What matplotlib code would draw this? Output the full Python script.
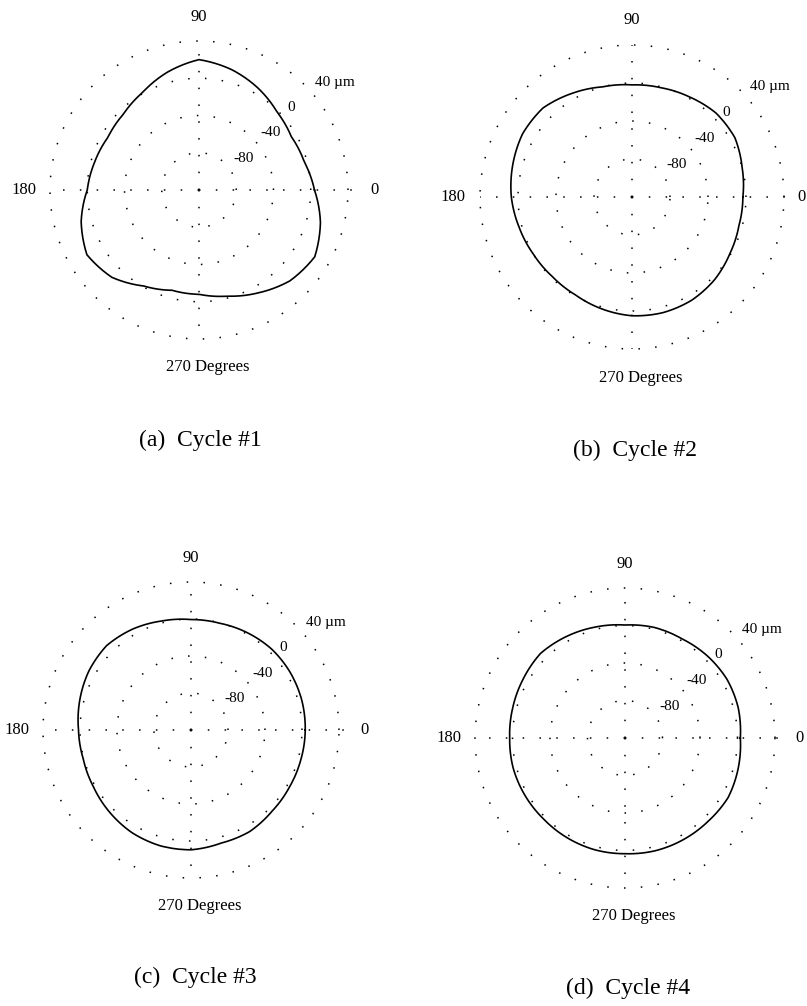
import numpy as np
import matplotlib.pyplot as plt

plt.rcParams['font.family'] = ['Liberation Serif', 'DejaVu Serif']

# angle (deg) at which each profile was read
theta_deg = np.arange(0, 360, 15)

# radial deviation in um at those angles
cycle1 = [4, -3, -5.5, -1.5, 6.5, 14, 20, 11, 1, -5, -7, -4,
          0, 11, 19, 12.5, -1, -8.5, -8, -2, 7.5, 18, 23.5, 15]
cycle2 = [-3.3, 0, 5, 5, 1.5, -1, -2, 0, 6, 12.5, 13, 10,
          7, 3, 0, -1.5, -1, 2, 5, 6, 5.5, 3, -1, -3.5]
cycle3 = [3.5, 4, 4, 3.5, 1.5, -0.5, -0.6, 2, 6, 9, 7.5, 4.5,
          1.6, 0.6, 2, 5, 8, 9.5, 9.5, 6.5, 6.8, 4, 3, 3]
cycle4 = [3, 5, 5.5, 4, 2, 2, 0.5, 2.5, 5, 7.5, 5.5, 4,
          3, 3.5, 3, 2.5, 3, 3.5, 3.4, 4.5, 5, 5.5, 7, 5]

ring_values = [-80, -40, 0, 40]
ring_labels = ['-80', '-40', '0', '40 µm']
captions = ['(a)  Cycle #1', '(b)  Cycle #2', '(c)  Cycle #3', '(d)  Cycle #4']

r_min, r_max = -120, 40

W, H = 807, 1006
fig = plt.figure(figsize=(W / 100, H / 100), dpi=100)

# centre x, centre y, outer radius (px), caption x, caption y, r of the "0" label
panels = [
    (199, 190, 149, 200, 440, 68),
    (632, 197, 152, 635, 450, 58),
    (191, 730, 148, 195, 977, 68),
    (625, 738, 150, 628, 988, 66),
]

dot = (0, (1, 10))
circ = np.linspace(0, 2 * np.pi, 361)

for (cx, cy, R, tx, ty, r0), vals, cap in zip(panels, [cycle1, cycle2, cycle3, cycle4], captions):
    ax = fig.add_axes([(cx - R) / W, 1 - (cy + R) / H, 2 * R / W, 2 * R / H], projection='polar')
    ax.set_ylim(r_min, r_max)
    ax.axis('off')

    # dotted rings and axes
    for rv in ring_values:
        ax.plot(circ, np.full_like(circ, rv), color='k', lw=1.1, ls=dot, clip_on=False)
    for ang, r_end in [(0, 52), (90, 40), (180, 40), (270, 40)]:
        ax.plot([np.radians(ang)] * 2, [r_min, r_end], color='k', lw=1.1, ls=dot, clip_on=False)

    # profile, drawn along arcs between the read angles
    th = np.radians(np.append(theta_deg, 360))
    ln, = ax.plot(th, list(vals) + [vals[0]], color='k', lw=1.2, clip_on=False)
    ln.get_path()._interpolation_steps = 30

    # labels
    for rv, lab in zip(ring_values, ring_labels):
        ax.text(np.radians(43), rv + 10, lab, ha='left', va='center', fontsize=11)
    ax.text(0, r0, '0', ha='center', va='center', fontsize=12)
    ax.text(np.pi / 2, 66, '90', ha='center', va='center', fontsize=12)
    ax.text(np.pi, 68, '180', ha='center', va='center', fontsize=12)
    ax.annotate('270 Degrees', xy=(1.5 * np.pi, 70), xytext=(6, 0), textcoords='offset points',
                ha='center', va='center', fontsize=12, annotation_clip=False)

    fig.text(tx / W, 1 - ty / H, cap, ha='center', va='center', fontsize=17)

fig.savefig('out.png', dpi=100)
